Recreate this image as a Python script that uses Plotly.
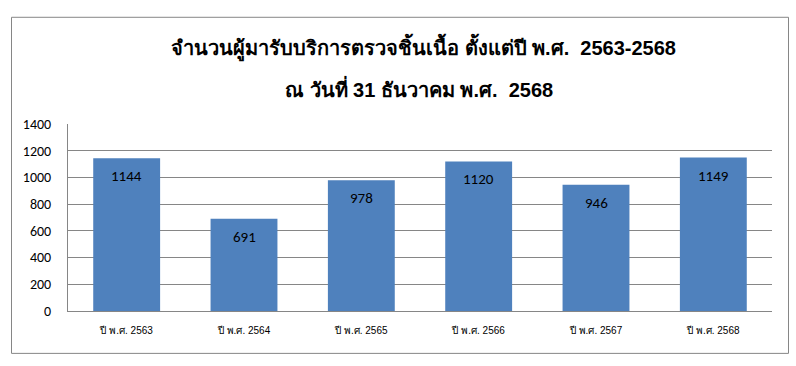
import plotly.graph_objects as go

categories = ["ปี พ.ศ. 2563", "ปี พ.ศ. 2564", "ปี พ.ศ. 2565", "ปี พ.ศ. 2566", "ปี พ.ศ. 2567", "ปี พ.ศ. 2568"]
values = [1144, 691, 978, 1120, 946, 1149]
y_ticks = [0, 200, 400, 600, 800, 1000, 1200, 1400]
title_lines = ["จำนวนผู้มารับบริการตรวจชิ้นเนื้อ ตั้งแต่ปี พ.ศ.  2563-2568", "ณ วันที่ 31 ธันวาคม พ.ศ.  2568"]

W, H = 796, 366
L, R, T, B = 68, 772, 123.5, 311
pw, ph = R - L, B - T

fig = go.Figure()
fig.add_trace(go.Bar(x=categories, y=values, marker=dict(color="#4F81BD", line=dict(width=0)),
                     hoverinfo="skip"))

for c, v in zip(categories, values):
    fig.add_annotation(x=c, y=v, text=str(v), showarrow=False, yshift=-18, yanchor="middle",
                       font=dict(family="Carlito, Liberation Sans, Arial", size=15, color="#000000"))

def px_x(p):
    return (p - L) / pw

def px_y(p):
    return (B - p) / ph

fig.add_shape(type="rect", xref="paper", yref="paper", x0=px_x(11.5), x1=px_x(788.5), y0=px_y(353.5), y1=px_y(16.5),
              line=dict(color="#868686", width=1), fillcolor="rgba(0,0,0,0)", layer="below")

fig.add_annotation(xref="paper", yref="paper", x=px_x(423), y=px_y(47), text="<b>" + title_lines[0] + "</b>", showarrow=False,
                   xanchor="center", yanchor="middle", font=dict(family="Arial, Liberation Sans, sans-serif", size=20, color="#000000"))
fig.add_annotation(xref="paper", yref="paper", x=px_x(419), y=px_y(87), text="<b>" + title_lines[1] + "</b>", showarrow=False,
                   xanchor="center", yanchor="middle", font=dict(family="Arial, Liberation Sans, sans-serif", size=20, color="#000000"))

fig.update_layout(
    width=W, height=H, margin=dict(l=L, r=W - R, t=T, b=H - B),
    paper_bgcolor="white", plot_bgcolor="white", showlegend=False, bargap=0.43,
    xaxis=dict(showgrid=False, showline=True, linecolor="#868686", linewidth=1, ticks="",
               tickfont=dict(family="Liberation Sans, Arial", size=10, color="#000000"), ticklabelstandoff=10),
    yaxis=dict(range=[0, 1400], tickvals=y_ticks, showgrid=True, gridcolor="#868686", gridwidth=1,
               showline=True, linecolor="#868686", linewidth=1, zeroline=False, ticks="",
               tickfont=dict(family="Carlito, Liberation Sans, Arial", size=14, color="#000000"), ticklabelstandoff=13),
)
fig.write_html("out.html")
